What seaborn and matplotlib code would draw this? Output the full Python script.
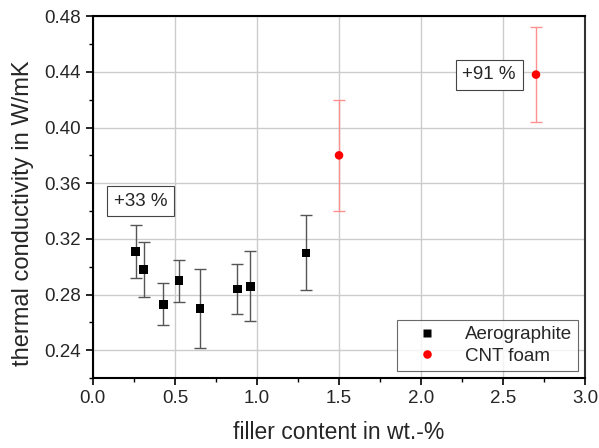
import numpy as np
import pandas as pd
import matplotlib
matplotlib.use("Agg")
import matplotlib.pyplot as plt
from matplotlib.ticker import MultipleLocator, FormatStrFormatter
import seaborn as sns

# Aerographite samples
aero_x = [0.26, 0.31, 0.43, 0.526, 0.654, 0.88, 0.96, 1.30]
aero_y = [0.311, 0.298, 0.273, 0.290, 0.270, 0.284, 0.286, 0.310]
aero_err = [0.019, 0.020, 0.015, 0.015, 0.0285, 0.018, 0.025, 0.027]

# CNT foam samples
cnt_x = [1.5, 2.7]
cnt_y = [0.380, 0.438]
cnt_err = [0.040, 0.034]

labels = ["Aerographite", "CNT foam"]
notes = ["+33 %", "+91 %"]
note_pos = [(0.29, 0.347), (2.415, 0.438)]

sns.set_style("white")
plt.rcParams['font.family'] = ['Liberation Sans', 'DejaVu Sans']

df = pd.DataFrame({
    "x": aero_x + cnt_x,
    "y": aero_y + cnt_y,
    "material": [labels[0]] * len(aero_x) + [labels[1]] * len(cnt_x),
})

fig, ax = plt.subplots(figsize=(5.99, 4.48), dpi=100)
fig.subplots_adjust(left=0.155, right=0.977, top=0.964, bottom=0.156)

ax.grid(True, color="#cccccc", linewidth=1.0, zorder=0)
ax.set_axisbelow(True)

ax.errorbar(aero_x, aero_y, yerr=aero_err, fmt="none", ecolor="#555555",
            elinewidth=1.0, capsize=4, capthick=1.0, zorder=2)
ax.errorbar(cnt_x, cnt_y, yerr=cnt_err, fmt="none", ecolor="#ff9090",
            elinewidth=1.0, capsize=4, capthick=1.0, zorder=2)

sns.scatterplot(data=df, x="x", y="y", hue="material", style="material",
                palette={labels[0]: "black", labels[1]: "red"},
                markers={labels[0]: "s", labels[1]: "o"},
                s=38, edgecolor="none", ax=ax, zorder=3)

for txt, (tx, ty) in zip(notes, note_pos):
    ax.text(tx, ty, txt, fontsize=13.5, ha="center", va="center", zorder=4,
            bbox=dict(boxstyle="square,pad=0.35", facecolor="white",
                      edgecolor="#444444", linewidth=0.8))

ax.set_xlim(0, 3.0)
ax.set_ylim(0.22, 0.48)
ax.xaxis.set_major_locator(MultipleLocator(0.5))
ax.xaxis.set_minor_locator(MultipleLocator(0.25))
ax.yaxis.set_major_locator(MultipleLocator(0.04))
ax.yaxis.set_minor_locator(MultipleLocator(0.02))
ax.xaxis.set_major_formatter(FormatStrFormatter("%.1f"))
ax.yaxis.set_major_formatter(FormatStrFormatter("%.2f"))
ax.tick_params(which="major", direction="out", length=5, width=1.2,
               labelsize=13.5, bottom=True, left=True, color="black")
ax.tick_params(which="minor", direction="out", length=3, width=1.0,
               bottom=True, left=True, color="black")

for sp in ax.spines.values():
    sp.set_color("black")
    sp.set_linewidth(1.5)
ax.spines["right"].set_color("#333333")

ax.set_xlabel("filler content in wt.-%", fontsize=16.5, labelpad=10)
ax.set_ylabel("thermal conductivity in W/mK", fontsize=17)
# label sits a bit below the axes centre in the original
ax.yaxis.label.set(ha="center", va="bottom", rotation_mode="anchor")
ax.yaxis.set_label_coords(-0.12, 0.455)

leg = ax.legend(loc="lower right", fontsize=13.5, frameon=True, fancybox=False,
                edgecolor="#444444", borderpad=0.3, handletextpad=0.7,
                handlelength=2.6, labelspacing=0.25, borderaxespad=0.4)
leg.get_frame().set_linewidth(0.8)

fig.savefig("out.png", dpi=100)
